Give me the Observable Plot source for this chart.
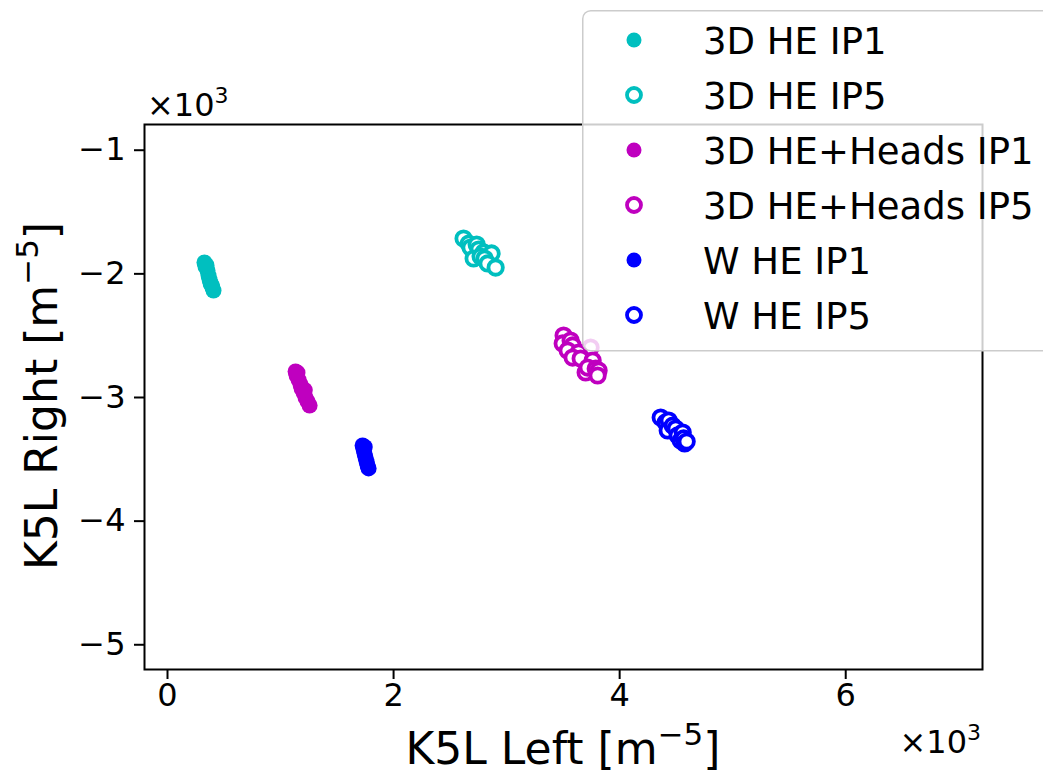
<!DOCTYPE html>
<html><head><meta charset="utf-8">
<script src="https://cdn.jsdelivr.net/npm/d3@7"></script>
<script src="https://cdn.jsdelivr.net/npm/@observablehq/plot@0.6"></script>
<style>
html,body{margin:0;padding:0;background:#fff;overflow:hidden;}
#wrap{position:relative;width:1043px;height:773px;overflow:hidden;font-family:"DejaVu Sans",sans-serif;}
#wrap svg{display:block;}
#legend{position:absolute;left:582px;top:10px;}
</style>
</head><body>
<div id="wrap"></div>
<script>
// ---- data (values in units of 10^3 m^-5) ----
const names = ["3D HE IP1","3D HE IP5","3D HE+Heads IP1","3D HE+Heads IP5","W HE IP1","W HE IP5"];
const colors = ["#00bfbf","#00bfbf","#bf00bf","#bf00bf","#0000ff","#0000ff"];
const filled = [true,false,true,false,true,false];

const he3d_ip1_x = [0.327,0.336,0.354,0.363,0.372,0.381,0.398,0.407,0.345,0.390];
const he3d_ip1_y = [-1.908,-1.941,-1.973,-2.014,-2.046,-2.078,-2.110,-2.135,-1.930,-2.090];
const he3d_ip5_x = [2.619,2.664,2.681,2.735,2.752,2.708,2.796,2.867,2.770,2.805,2.832,2.903];
const he3d_ip5_y = [-1.714,-1.755,-1.787,-1.763,-1.803,-1.876,-1.827,-1.835,-1.860,-1.876,-1.916,-1.949];
const heads_ip1_x = [1.133,1.142,1.159,1.177,1.186,1.204,1.221,1.239,1.257,1.150,1.215];
const heads_ip1_y = [-2.790,-2.822,-2.855,-2.895,-2.927,-2.960,-3.000,-3.032,-3.065,-2.800,-2.940];
const heads_ip5_x = [3.504,3.496,3.566,3.584,3.540,3.743,3.637,3.584,3.655,3.761,3.699,3.717,3.788,3.814,3.805];
const heads_ip5_y = [-2.499,-2.563,-2.539,-2.579,-2.620,-2.596,-2.636,-2.677,-2.685,-2.701,-2.798,-2.758,-2.767,-2.782,-2.822];
const whe_ip1_x = [1.726,1.735,1.743,1.752,1.761,1.770,1.779,1.745];
const whe_ip1_y = [-3.388,-3.421,-3.453,-3.485,-3.518,-3.550,-3.574,-3.400];
const whe_ip5_x = [4.363,4.407,4.434,4.425,4.469,4.496,4.513,4.558,4.540,4.566,4.575,4.593];
const whe_ip5_y = [-3.162,-3.202,-3.186,-3.267,-3.227,-3.251,-3.307,-3.283,-3.348,-3.331,-3.372,-3.356];

const xTicks = [0,2,4,6];
const yTicks = [-5,-4,-3,-2,-1];
const xLabel = "K5L Left [m", yLabel = "K5L Right [m", supText = "−5";

const xsAll = [he3d_ip1_x,he3d_ip5_x,heads_ip1_x,heads_ip5_x,whe_ip1_x,whe_ip5_x];
const ysAll = [he3d_ip1_y,he3d_ip5_y,heads_ip1_y,heads_ip5_y,whe_ip1_y,whe_ip5_y];

const series = names.map((n,i)=>({
  name:n, color:colors[i], filled:filled[i],
  data: xsAll[i].map((x,j)=>({x, y: ysAll[i][j]}))
}));

const dotMarks = series.map(s => s.filled
  ? Plot.dot(s.data,{x:"x",y:"y",r:8,fill:s.color,stroke:"none"})
  : Plot.dot(s.data,{x:"x",y:"y",r:7.2,fill:"white",stroke:s.color,strokeWidth:3.8}));

const fmt = d3.format("d");
const W = 1043, H = 773;
const chart = Plot.plot({
  width:W, height:H,
  marginLeft:144, marginRight:61, marginTop:124, marginBottom:104,
  style:{fontFamily:"DejaVu Sans, sans-serif", fontSize:"32px", background:"white", color:"black"},
  x:{domain:[-0.2035,7.21]},
  y:{domain:[-5.2,-0.792]},
  marks:[
    Plot.axisX({ticks:xTicks, tickFormat:fmt, tickSize:10, tickPadding:4, label:null, strokeWidth:2, fontSize:32}),
    Plot.axisY({ticks:yTicks, tickFormat:fmt, tickSize:10, tickPadding:9, label:null, strokeWidth:2, fontSize:32}),
    ...dotMarks,
    Plot.frame({stroke:"black", strokeWidth:2})
  ]
});
document.getElementById("wrap").appendChild(chart);

const svg = d3.select(chart);
// x label
const xl = svg.append("text").attr("x",563).attr("y",764).attr("text-anchor","middle")
  .attr("font-size",44).attr("fill","black");
xl.append("tspan").text(xLabel);
xl.append("tspan").attr("font-size",31).attr("dy",-19).text(supText);
xl.append("tspan").attr("dy",19).text("]");
// y label
const yl = svg.append("text").attr("transform","translate(57,396) rotate(-90)").attr("text-anchor","middle")
  .attr("font-size",44).attr("fill","black");
yl.append("tspan").text(yLabel);
yl.append("tspan").attr("font-size",31).attr("dy",-19).text(supText);
yl.append("tspan").attr("dy",19).text("]");
// offset texts
function offsetText(x,y,anchor){
  const t = svg.append("text").attr("x",x).attr("y",y).attr("text-anchor",anchor)
    .attr("font-size",32).attr("fill","black");
  t.append("tspan").text("×10");
  t.append("tspan").attr("font-size",22).attr("dy",-13).text("3");
}
offsetText(147,116,"start");
offsetText(981,753,"end");

// legend (semi-transparent box, clipped by the window edge)
const lg = d3.select("#wrap").append("svg").attr("id","legend").attr("width",470).attr("height",342);
lg.append("rect").attr("x",0.75).attr("y",0.75).attr("width",520).attr("height",340)
  .attr("rx",8).attr("fill","white").attr("fill-opacity",0.8).attr("stroke","#cccccc").attr("stroke-width",1.5);
series.forEach((s,i)=>{
  const cy = 30 + 55*i;
  if (s.filled) lg.append("circle").attr("cx",52).attr("cy",cy).attr("r",7.5).attr("fill",s.color);
  else lg.append("circle").attr("cx",52).attr("cy",cy).attr("r",7).attr("fill","white").attr("stroke",s.color).attr("stroke-width",3.8);
  lg.append("text").attr("x",121).attr("y",cy+13.5).attr("font-size",37).attr("fill","black")
    .attr("font-family","DejaVu Sans, sans-serif").text(s.name);
});
</script>
</body></html>
